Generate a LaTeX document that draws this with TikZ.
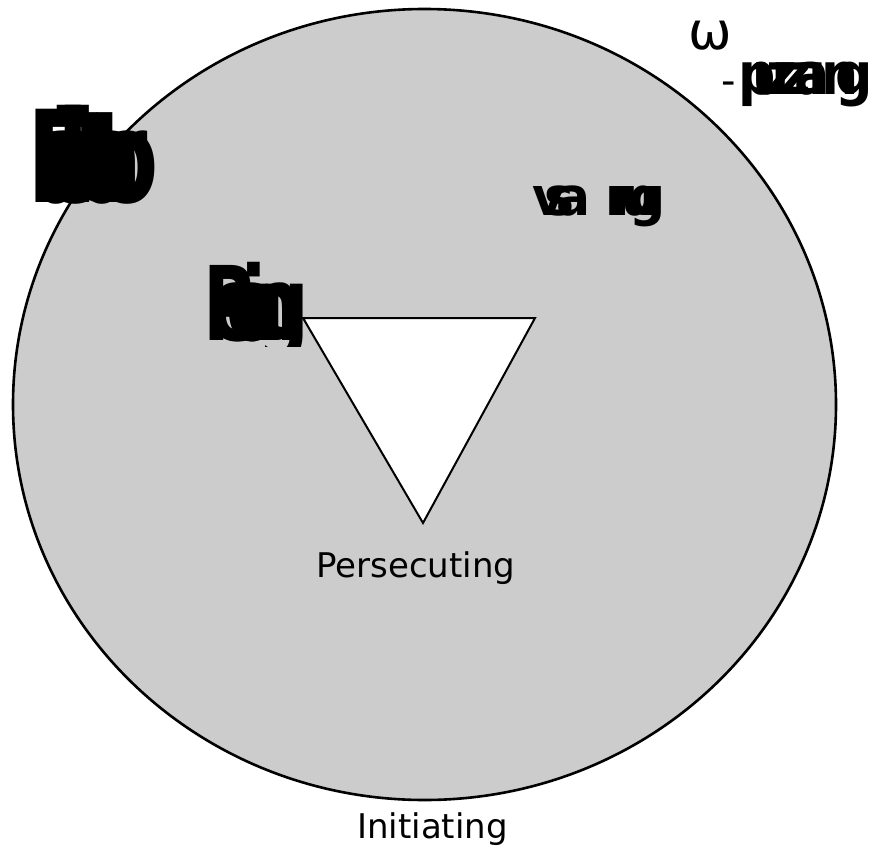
\documentclass[tikz,border=0pt]{standalone}
\usepackage{fontspec}
\setmainfont{DejaVu Sans}
\newcommand{\gl}[2]{\makebox[#1][l]{#2}}
\begin{document}
\begin{tikzpicture}[x=1pt,y=-1pt,
  disc/.style={fill=black!20,draw=none},
  rim/.style={draw=black,line width=2.6pt},
  tri/.style={draw=black,fill=white,line width=2pt,line join=miter},
  lbl/.style={inner sep=0pt,anchor=base west,font=\fontsize{34}{34}\selectfont},
  garble/.style={inner sep=0pt,anchor=base west}]
\useasboundingbox (0,0) rectangle (872,848);
\fill[disc] (424.5,404.5) ellipse [x radius=411.5, y radius=395.5];
% garbled overlapping words
\begin{scope}
\clip (0,0) rectangle (872,205);
\node[garble] (facil) at (27,202) {\fontsize{128}{128}\selectfont\bfseries\scalebox{0.72}[1]{\gl{10.5pt}{F}\gl{10.5pt}{a}\gl{10.5pt}{c}\gl{10.5pt}{i}\gl{10.5pt}{l}\gl{10.5pt}{i}\gl{10.5pt}{t}\gl{10.5pt}{a}\gl{10.5pt}{t}\gl{10.5pt}{o}r}};
\end{scope}
\begin{scope}
\clip (0,200) rectangle (872,346);
\node[garble] (rescu) at (203,340) {\fontsize{103}{103}\selectfont\bfseries\scalebox{0.7}[1]{\gl{11pt}{R}\gl{11pt}{e}\gl{11pt}{s}\gl{11pt}{c}\gl{11pt}{u}\gl{11pt}{i}\gl{11pt}{n}g}};
\end{scope}
\node[garble] (vsgrp) at (532,215) {\fontsize{53}{53}\selectfont\bfseries\scalebox{0.95}[1]{\gl{13pt}{v}\gl{13pt}{s}a}};
\node[garble] (nggrp) at (605,215) {\fontsize{53}{53}\selectfont\bfseries\scalebox{0.95}[1]{\gl{8pt}{ı}\gl{9pt}{ı}\gl{9pt}{u}g}};
\node[garble] (omega) at (688,50) {\fontsize{52}{52}\selectfont ω};
\node[garble] (dash) at (721,95) {\fontsize{40}{40}\selectfont -};
\begin{scope}
\clip (0,0) rectangle (872,848);
\node[garble] (puzz) at (738,95) {\fontsize{58}{58}\selectfont\bfseries\scalebox{0.9}[1]{\gl{15.5pt}{p}\gl{15.5pt}{u}\gl{15.5pt}{z}\gl{15.5pt}{z}\gl{15.5pt}{a}\gl{15.5pt}{ı}\gl{15.5pt}{n}g}};
\end{scope}
% circle outline over the text
\draw[rim] (424.5,404.5) ellipse [x radius=411.5, y radius=395.5];
% triangle
\coordinate (tl) at (303,318);
\coordinate (tr) at (535,318);
\coordinate (tb) at (423,523);
\draw[tri] (tl) -- (tr) -- (tb) -- cycle;
\node[lbl] (pers) at (316,577) {Persecuting};
\node[lbl] (init) at (357,838) {Initiating};
\end{tikzpicture}
\end{document}
